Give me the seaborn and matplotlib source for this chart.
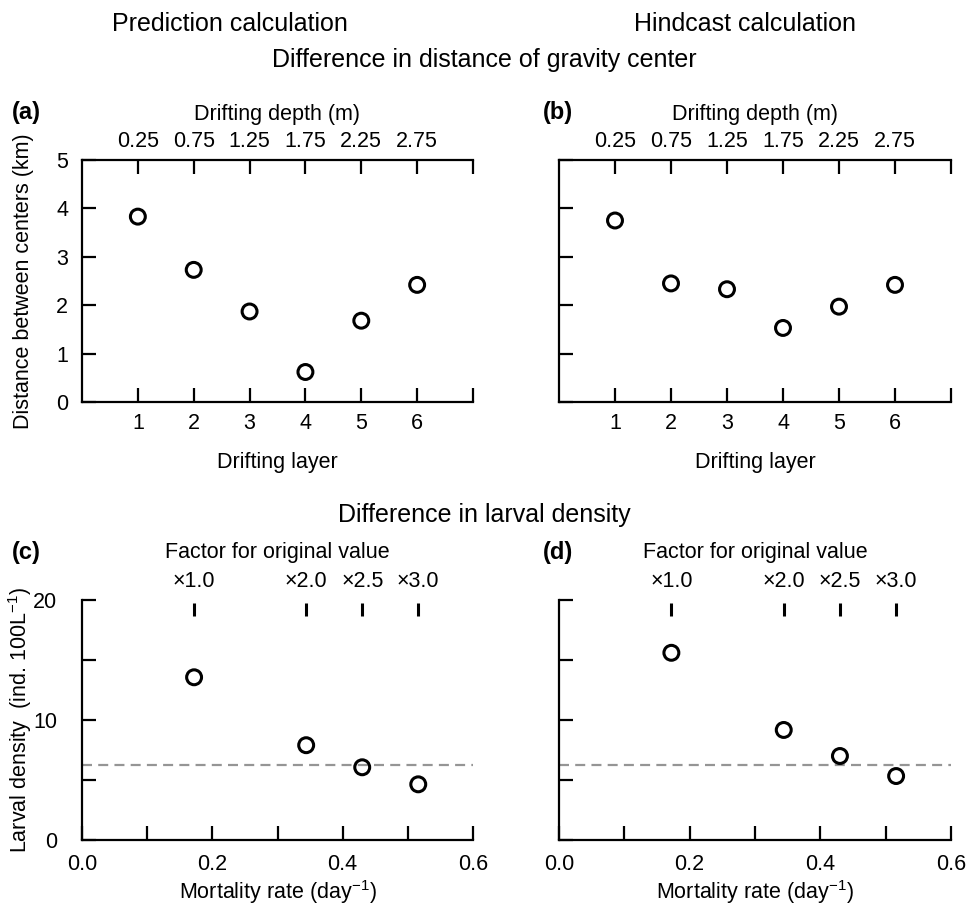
import numpy as np
import pandas as pd
import matplotlib
matplotlib.use("Agg")
import matplotlib.pyplot as plt
import seaborn as sns

# ---- data ----
layers = [1, 2, 3, 4, 5, 6]
depth_labels = ["0.25", "0.75", "1.25", "1.75", "2.25", "2.75"]
dist_pred = [3.83, 2.73, 1.87, 0.62, 1.68, 2.42]
dist_hind = [3.75, 2.45, 2.33, 1.53, 1.97, 2.42]

mort_rate = [0.172, 0.344, 0.430, 0.516]
factor_labels = ["×1.0", "×2.0", "×2.5", "×3.0"]
dens_pred = [13.56, 7.9, 6.06, 4.64]
dens_hind = [15.6, 9.17, 7.0, 5.33]
dens_ref = 6.25

sns.set_theme(style="ticks")
plt.rcParams['font.family'] = ['Liberation Sans', 'DejaVu Sans']
plt.rcParams['mathtext.fontset'] = 'custom'
plt.rcParams['mathtext.rm'] = 'Liberation Sans'
plt.rcParams['mathtext.it'] = 'Liberation Sans:italic'
plt.rcParams['axes.linewidth'] = 1.6
plt.rcParams['axes.edgecolor'] = 'black'
plt.rcParams['text.color'] = 'black'
plt.rcParams['axes.labelcolor'] = 'black'
plt.rcParams['xtick.color'] = 'black'
plt.rcParams['ytick.color'] = 'black'

FS = 15.5
TFS = 18
W, H = 968, 906
fig = plt.figure(figsize=(W / 100, H / 100), dpi=100)


def box(l, r, t, b):
    return [l / W, 1 - b / H, (r - l) / W, (b - t) / H]


def scatter(ax, x, y):
    df = pd.DataFrame({"x": x, "y": y})
    sns.scatterplot(data=df, x="x", y="y", ax=ax, s=115, facecolor="none",
                    edgecolor="black", linewidth=2.2, zorder=5)


def tick_style(ax, **kw):
    ax.tick_params(axis="both", which="both", direction="in", length=10,
                   width=1.6, colors="black", labelsize=FS, **kw)


# ---------- top panels ----------
for i, (vals, lab) in enumerate([(dist_pred, "(a)"), (dist_hind, "(b)")]):
    if i == 0:
        ax = fig.add_axes(box(82, 473, 160, 402))
    else:
        ax = fig.add_axes(box(559, 951, 160, 402))
    scatter(ax, layers, vals)
    ax.set_xlim(0, 7)
    ax.set_ylim(0, 5)
    ax.set_xticks([1, 2, 3, 4, 5, 6, 7])
    ax.set_xticklabels(["1", "2", "3", "4", "5", "6", ""])
    ax.set_yticks([0, 1, 2, 3, 4, 5])
    tick_style(ax)
    ax.tick_params(axis="x", pad=8)
    ax.tick_params(axis="y", pad=10)
    ax.spines["right"].set_visible(False)
    ax.spines["top"].set_visible(True)
    ax.set_xlabel("Drifting layer", fontsize=FS, labelpad=13)
    if i == 0:
        ax.set_ylabel("Distance between centers (km)", fontsize=FS, labelpad=16)
    else:
        ax.set_yticklabels([])
        ax.set_ylabel("")
    sec = ax.secondary_xaxis("top")
    sec.set_xticks([1, 2, 3, 4, 5, 6, 7])
    sec.set_xticklabels(depth_labels + [""])
    sec.tick_params(direction="in", length=10, width=1.6, labelsize=FS, pad=6)
    sec.spines["top"].set_visible(False)
    sec.set_xlabel("Drifting depth (m)", fontsize=FS, labelpad=8)
    fig.text((12 if i == 0 else 543) / W, 1 - 112 / H, lab, fontsize=17,
             fontweight="bold", va="center", ha="left")

# ---------- bottom panels ----------
for i, (vals, lab) in enumerate([(dens_pred, "(c)"), (dens_hind, "(d)")]):
    if i == 0:
        ax = fig.add_axes(box(82, 473, 600, 840))
    else:
        ax = fig.add_axes(box(559, 951, 600, 840))
    ax.axhline(dens_ref, color="#959595", lw=1.6, ls=(0, (4.5, 2.8)), zorder=2)
    scatter(ax, mort_rate, vals)
    ax.set_xlim(0, 0.6)
    ax.set_ylim(0, 20)
    ax.set_xticks([0.0, 0.2, 0.4, 0.6])
    ax.set_xticklabels(["0.0", "0.2", "0.4", "0.6"])
    ax.set_xticks([0.1, 0.3, 0.5], minor=True)
    ax.set_yticks([0, 10, 20])
    ax.set_yticks([5, 15], minor=True)
    tick_style(ax)
    ax.tick_params(axis="x", pad=10)
    ax.tick_params(axis="y", pad=18)
    ax.spines["right"].set_visible(False)
    ax.spines["top"].set_visible(False)
    ax.set_xlabel("Mortality rate (day$^{-1}$)", fontsize=FS, labelpad=2)
    if i == 0:
        ax.set_ylabel("Larval density  (ind. 100L$^{-1}$)", fontsize=FS, labelpad=-1)
    else:
        ax.set_yticklabels([])
        ax.set_ylabel("")
    sec = ax.secondary_xaxis(1 - 3 / 240)
    sec.set_xticks(mort_rate)
    sec.set_xticklabels(factor_labels)
    sec.tick_params(direction="in", length=9, width=2.2, labelsize=FS, pad=8)
    sec.spines["top"].set_visible(False)
    sec.set_xlabel("Factor for original value", fontsize=FS, labelpad=9)
    fig.text((12 if i == 0 else 543) / W, 1 - 553 / H, lab, fontsize=17,
             fontweight="bold", va="center", ha="left")

# ---------- titles ----------
fig.text(230 / W, 1 - 24 / H, "Prediction calculation", fontsize=TFS, ha="center", va="center")
fig.text(745 / W, 1 - 24 / H, "Hindcast calculation", fontsize=TFS, ha="center", va="center")
fig.text(484 / W, 1 - 60 / H, "Difference in distance of gravity center", fontsize=TFS,
         ha="center", va="center")
fig.text(484 / W, 1 - 515 / H, "Difference in larval density", fontsize=TFS,
         ha="center", va="center")

fig.savefig("out.png", dpi=100)
